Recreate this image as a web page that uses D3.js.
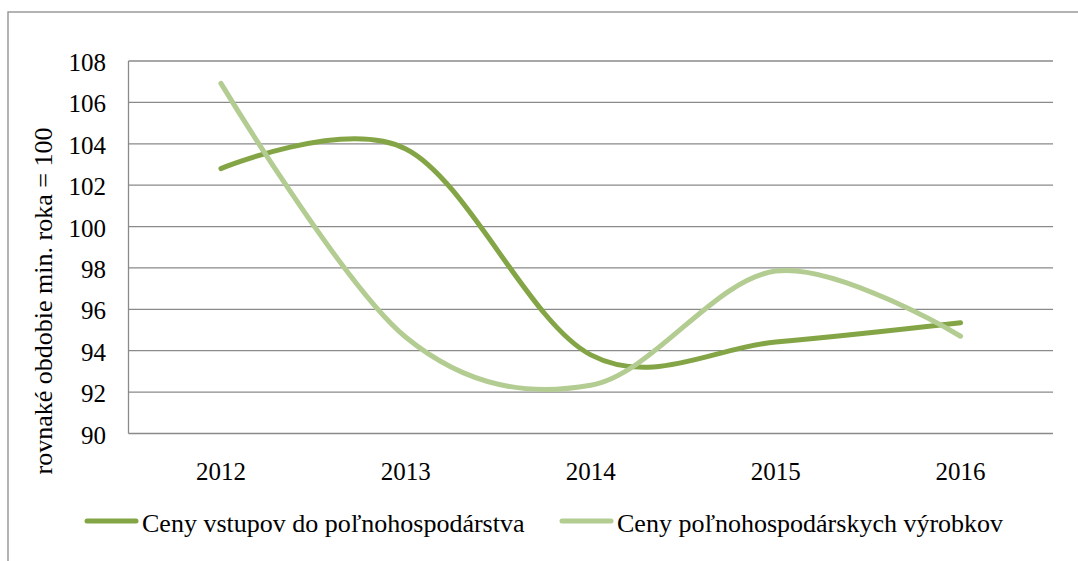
<!DOCTYPE html>
<html>
<head>
<meta charset="utf-8">
<script src="https://cdn.jsdelivr.net/npm/d3@7"></script>
<style>
  html, body { margin: 0; padding: 0; background: #fff; }
  svg { display: block; }
</style>
</head>
<body>
<svg id="chart" width="1078" height="561"></svg>
<script>
const years = ["2012", "2013", "2014", "2015", "2016"];
const inputPrices = [102.8, 103.75, 93.8, 94.42, 95.35];
const productPrices = [106.92, 94.65, 92.33, 97.85, 94.7];
const seriesNames = ["Ceny vstupov do poľnohospodárstva", "Ceny poľnohospodárskych výrobkov"];
const seriesColors = ["#84a546", "#b3cc92"];
const yTicks = [90, 92, 94, 96, 98, 100, 102, 104, 106, 108];
const yTitle = "rovnaké obdobie min. roka = 100";

const FONT = "'Liberation Serif', 'Times New Roman', 'DejaVu Serif', serif";
const svg = d3.select("#chart");
const W = 1078, H = 561;
const plot = { left: 128.5, right: 1053, top: 61, bottom: 433.5 };

svg.append("rect").attr("width", W).attr("height", H).attr("fill", "#fff");

// outer chart border
svg.append("rect")
  .attr("x", 8).attr("y", 12)
  .attr("width", W + 20).attr("height", H + 20)
  .attr("fill", "none").attr("stroke", "#8c8c8c").attr("stroke-width", 1.3);

const x = d3.scaleBand().domain(years).range([plot.left, plot.right]).padding(0);
const y = d3.scaleLinear().domain([90, 108]).range([plot.bottom, plot.top]);

// gridlines
svg.append("g").selectAll("line").data(yTicks).join("line")
  .attr("x1", plot.left).attr("x2", plot.right)
  .attr("y1", d => y(d)).attr("y2", d => y(d))
  .attr("stroke", "#8a8a8a").attr("stroke-width", 1.3);

// y axis line
svg.append("line")
  .attr("x1", plot.left).attr("x2", plot.left)
  .attr("y1", plot.top).attr("y2", plot.bottom)
  .attr("stroke", "#8a8a8a").attr("stroke-width", 1.3);

// y tick labels
svg.append("g").selectAll("text").data(yTicks).join("text")
  .attr("x", 106).attr("y", d => y(d))
  .attr("dy", "0.4em")
  .attr("text-anchor", "end")
  .attr("font-family", FONT)
  .attr("font-size", 25)
  .text(d => d);

// x tick labels
svg.append("g").selectAll("text").data(years).join("text")
  .attr("x", d => x(d) + x.bandwidth() / 2)
  .attr("y", 480)
  .attr("text-anchor", "middle")
  .attr("font-family", FONT)
  .attr("font-size", 25)
  .text(d => d);

// y title
svg.append("text")
  .attr("transform", "translate(52,301) rotate(-90)")
  .attr("text-anchor", "middle")
  .attr("font-family", FONT)
  .attr("font-size", 26)
  .text(yTitle);

// lines
const line = d3.line()
  .x((d, i) => x(years[i]) + x.bandwidth() / 2)
  .y(d => y(d))
  .curve(d3.curveCardinal.tension(0));

[inputPrices, productPrices].forEach((vals, i) => {
  svg.append("path")
    .datum(vals)
    .attr("d", line)
    .attr("fill", "none")
    .attr("stroke", seriesColors[i])
    .attr("stroke-width", 5)
    .attr("stroke-linecap", "round")
    .attr("stroke-linejoin", "round");
});

// legend
const legendItems = [
  { x1: 87, x2: 136, tx: 142 },
  { x1: 562, x2: 611, tx: 617 }
];
legendItems.forEach((it, i) => {
  svg.append("line")
    .attr("x1", it.x1).attr("x2", it.x2)
    .attr("y1", 521).attr("y2", 521)
    .attr("stroke", seriesColors[i]).attr("stroke-width", 5)
    .attr("stroke-linecap", "round");
  svg.append("text")
    .attr("x", it.tx).attr("y", 532)
    .attr("font-family", FONT)
    .attr("font-size", 26)
    .text(seriesNames[i]);
});
</script>
</body>
</html>
